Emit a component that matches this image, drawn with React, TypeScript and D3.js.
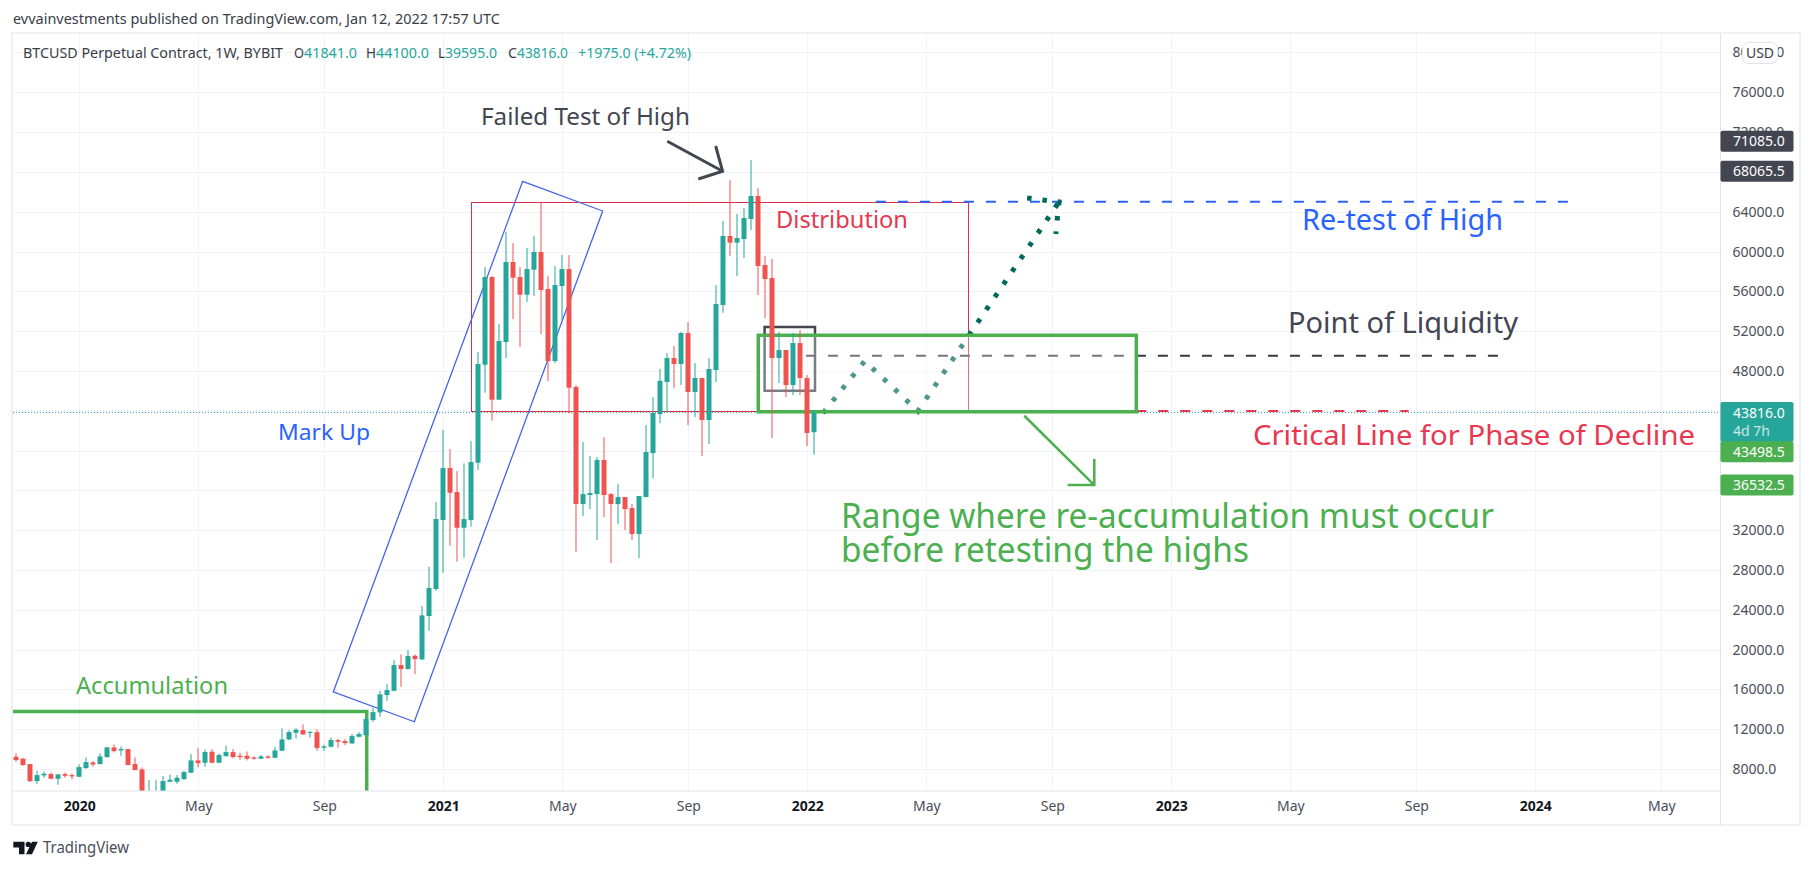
import { useEffect, useRef } from 'react';
import * as d3 from 'd3';

// weekly bars, first bar is the week of 2019-11-04
const opens = [
  9231, 9030, 8494, 6785, 7355, 7489, 7020, 7489, 7389, 7221,
  8092, 8661, 8494, 9197, 10169, 9868, 10001, 8494, 7958, 4900,
  5500, 5700, 6718, 6718, 6986, 7623, 8862, 8628, 9734, 8628,
  9298, 9700, 9331, 9331, 9164, 9030, 9264, 9130, 9834, 10973,
  11643, 11911, 11610, 11710, 10136, 10236, 10906, 10805, 10571, 11241,
  11408, 12916, 13686, 15429, 15864, 18444, 18041, 19381, 19013, 23368,
  26081, 33016, 38242, 35830, 32245, 33016, 38777, 48627, 57437, 45110,
  50905, 58945, 57437, 55662, 58175, 59950, 56231, 48996, 56533, 58241,
  46382, 34624, 35529, 35629, 39046, 35629, 34624, 35327, 34222, 31609,
  35327, 39750, 43670, 46885, 49297, 48695, 51810, 45880, 47287, 43070,
  48093, 54623, 61558, 60888, 61256, 63266, 65578, 58643, 57337, 49297,
  50101, 46584, 50805, 47287, 41841,
];
const highs = [
  9566, 9130, 8494, 7824, 7757, 7656, 7455, 7656, 7556, 8460,
  9164, 8796, 9566, 10236, 10470, 10270, 10001, 9164, 8159, 6886,
  6886, 7288, 7455, 7389, 7824, 9499, 10102, 9968, 10001, 9566,
  10370, 10001, 9633, 9767, 9264, 9432, 9365, 10236, 12078, 11911,
  12112, 12480, 11844, 12011, 10437, 11174, 11006, 11006, 11509, 11710,
  13318, 14155, 15864, 16534, 18946, 19515, 19951, 19515, 24373, 28326,
  34825, 42061, 40152, 37940, 38710, 40955, 49900, 58442, 57538, 52714,
  61960, 60854, 58442, 60352, 61558, 64908, 57538, 58543, 59649, 59649,
  46583, 40855, 39448, 39348, 41357, 35730, 36634, 35327, 34624, 35430,
  42563, 45378, 48209, 49800, 50503, 51911, 52915, 48795, 47287, 49297,
  56634, 63065, 67186, 63769, 64372, 69196, 66382, 59548, 59246, 51911,
  50101, 51810, 52111, 47588, 44100,
];
const lows = [
  8728, 8326, 6685, 6517, 7120, 6986, 6417, 7120, 6953, 7187,
  8025, 8226, 8460, 9130, 9666, 9331, 8394, 7891, 3850, 4400,
  5100, 5700, 6718, 6517, 6886, 7590, 8159, 8226, 8594, 8594,
  9231, 9063, 8930, 8862, 8930, 8996, 9030, 9097, 9800, 10906,
  11074, 11442, 11140, 9834, 9834, 10169, 10136, 10403, 10537, 11174,
  11341, 12748, 13251, 14859, 15831, 16266, 18008, 17539, 18979, 21894,
  25914, 27720, 30436, 28825, 29225, 32350, 38040, 45813, 43000, 45110,
  49297, 53216, 50402, 54925, 55528, 51709, 46986, 48795, 53116, 43736,
  29830, 33418, 34120, 31006, 33317, 28695, 32614, 32011, 31006, 29198,
  35300, 37237, 42765, 43870, 46282, 46584, 42563, 43369, 39448, 40654,
  46885, 53853, 59548, 57538, 59347, 62161, 55628, 53317, 41257, 46784,
  45378, 45578, 45578, 40453, 39595,
];
const closes = [
  8896, 8394, 6785, 7389, 7523, 7020, 7455, 7321, 7254, 8192,
  8695, 8460, 9264, 10169, 9800, 10001, 8394, 7891, 5390, 5600,
  5750, 6785, 6920, 7120, 7690, 8862, 8594, 9700, 8628, 9398,
  9700, 9197, 9197, 9030, 9030, 9264, 9130, 9868, 10973, 11710,
  11944, 11475, 11710, 10102, 10270, 10906, 10738, 10604, 11308, 11509,
  13016, 13720, 15496, 15931, 18444, 18041, 19348, 19046, 23435, 26182,
  33116, 38242, 35760, 32245, 33115, 38845, 48695, 57437, 45110, 51005,
  58945, 57370, 55662, 58241, 59950, 56131, 48996, 56633, 58241, 46316,
  34624, 35629, 35730, 39046, 35529, 34624, 35327, 34120, 31609, 35430,
  39850, 43769, 47000, 49297, 48695, 51810, 45880, 47287, 43070, 48194,
  54724, 61558, 60888, 61357, 63367, 65578, 58543, 57237, 49297, 50101,
  46584, 50805, 47287, 41759, 43816,
];

const priceTicks = [
  8000, 12000, 16000, 20000, 24000, 28000, 32000, 36000, 40000, 44000,
  48000, 52000, 56000, 60000, 64000, 68000, 72000, 76000, 80000,
];
// these tick labels sit fully under the price tags, only their grid line shows
const coveredPriceLabels = [36000, 40000, 44000, 68000];
const timeTickBars = [9, 26, 44, 61, 78, 96, 113, 130, 148, 165, 182, 200, 217, 235];
const timeTickLabels = ['2020', 'May', 'Sep', '2021', 'May', 'Sep', '2022', 'May', 'Sep', '2023', 'May', 'Sep', '2024', 'May'];

const LAST_PRICE = 43816;

// drawings, all as [bar, price]
const markUpBox: [number, number][] = [[45.29, 15760], [72.34, 67055], [83.77, 64071], [56.86, 12745]];
const distributionBox: [number, number][] = [[65, 64945], [136.06, 64945], [136.06, 43901], [65, 43901]];
const reaccumBox: [number, number][] = [[106, 51578], [160, 51578], [160, 43900], [106, 43900]];
const liquidityBox: [number, number][] = [[106.9, 52412], [114.1, 52412], [114.1, 46011], [106.9, 46011]];
const accumulationLine: [number, number][] = [[-2, 13790], [50.06, 13790], [50.06, 4000]];
const retestLine: [number, number][] = [[122.8, 65000], [221.8, 65000]];
const liquidityLine: [number, number][] = [[112.8, 49528], [212, 49528]];
const criticalLine: [number, number][] = [[160, 43970], [198.9, 43970]];
const failedArrow: [number, number][] = [[93, 71085], [100.9, 68065]];
const failedArrowHead: [number, number][] = [[99.91, 70603], [100.9, 68065], [97.43, 67286]];
const rangeArrow: [number, number][] = [[144, 43498], [154, 36532]];
const rangeArrowHead: [number, number][] = [[154, 39146], [154, 36532], [150.2, 36532]];
const projection: [number, number][] = [[115.24, 43769], [121.2, 48996], [128.8, 43970], [148.95, 64975]];
const projectionHead: [number, number][] = [[144.4, 65377], [148.95, 64975], [148.5, 61759]];

const GREEN = '#4caf50';
const RED = '#e8374f';
const BLUE = '#2962ff';
const DARK = '#434651';
const TEAL = '#26a69a';
const CANDLE_RED = '#ef5350';
const FONT = '"Noto Sans", sans-serif';

const W = 1813;
const H = 870;
const pane = { l: 13, t: 33, r: 1720.5, b: 791 };

export default function App() {
  const svgRef = useRef<SVGSVGElement>(null);

  useEffect(() => {
    const svg = d3.select(svgRef.current);
    svg.selectAll('*').remove();

    const x = d3.scaleLinear().domain([0, 114]).range([16.3, 814.3]);
    const y = d3.scaleLinear().domain([8000, 76000]).range([769, 92.3]);
    const line = d3.line<[number, number]>().x(d => x(d[0])).y(d => y(d[1]));
    const closed = (pts: [number, number][]) => line(pts) + 'Z';

    svg.append('rect').attr('width', W).attr('height', H).attr('fill', '#fff');

    // outer frame
    svg.append('rect')
      .attr('x', 12).attr('y', 33).attr('width', 1788).attr('height', 792)
      .attr('fill', 'none').attr('stroke', '#eef0f5').attr('stroke-width', 2);

    svg.append('defs').append('clipPath').attr('id', 'pane')
      .append('rect')
      .attr('x', pane.l).attr('y', pane.t)
      .attr('width', pane.r - pane.l).attr('height', pane.b - pane.t);

    // grid
    const grid = svg.append('g').attr('stroke', '#f0f3fa').attr('stroke-width', 1);
    grid.selectAll('line.h').data(priceTicks).join('line')
      .attr('x1', pane.l).attr('x2', pane.r)
      .attr('y1', d => Math.round(y(d)) + 0.5).attr('y2', d => Math.round(y(d)) + 0.5);
    grid.selectAll('line.v').data(timeTickBars).join('line')
      .attr('y1', pane.t).attr('y2', pane.b)
      .attr('x1', d => Math.round(x(d)) + 0.5).attr('x2', d => Math.round(x(d)) + 0.5);

    const chart = svg.append('g').attr('clip-path', 'url(#pane)');

    // last price line
    chart.append('line')
      .attr('x1', pane.l).attr('x2', pane.r)
      .attr('y1', y(LAST_PRICE)).attr('y2', y(LAST_PRICE))
      .attr('stroke', TEAL).attr('stroke-dasharray', '1 2');

    // drawings under the translucent range box
    chart.append('path').attr('d', closed(distributionBox))
      .attr('fill', 'none').attr('stroke', '#d9304a').attr('stroke-width', 1)
      .attr('shape-rendering', 'crispEdges');
    chart.append('path').attr('d', closed(markUpBox))
      .attr('fill', 'none').attr('stroke', '#4564e8').attr('stroke-width', 1.3);
    chart.append('path').attr('d', closed(liquidityBox))
      .attr('fill', 'none').attr('stroke', DARK).attr('stroke-width', 2.5);
    chart.append('path').attr('d', line(accumulationLine))
      .attr('fill', 'none').attr('stroke', GREEN).attr('stroke-width', 3.5);

    const dashed = (pts: [number, number][], color: string) =>
      chart.append('path').attr('d', line(pts))
        .attr('fill', 'none').attr('stroke', color).attr('stroke-width', 2)
        .attr('stroke-dasharray', '10 12');
    dashed(retestLine, BLUE);
    dashed(liquidityLine, '#363a45');
    dashed(criticalLine, RED);

    const dotted = (d: string | null) =>
      chart.append('path').attr('d', d)
        .attr('fill', 'none').attr('stroke', '#00695c').attr('stroke-width', 5)
        .attr('stroke-dasharray', '4.5 10.9');
    dotted(line(projection));
    dotted(line(projectionHead));

    chart.append('path').attr('d', closed(reaccumBox))
      .attr('fill', 'rgba(255,255,255,0.3)').attr('stroke', GREEN).attr('stroke-width', 3.5);

    chart.append('path').attr('d', line(failedArrow))
      .attr('fill', 'none').attr('stroke', DARK).attr('stroke-width', 3);
    chart.append('path').attr('d', line(failedArrowHead))
      .attr('fill', 'none').attr('stroke', DARK).attr('stroke-width', 3);
    chart.append('path').attr('d', line(rangeArrow))
      .attr('fill', 'none').attr('stroke', GREEN).attr('stroke-width', 2.5);
    chart.append('path').attr('d', line(rangeArrowHead))
      .attr('fill', 'none').attr('stroke', GREEN).attr('stroke-width', 2.5);

    // candles
    const bars = d3.range(opens.length);
    const color = (i: number) => (closes[i] >= opens[i] ? TEAL : CANDLE_RED);
    const px = (i: number) => Math.round(x(i));
    chart.append('g').selectAll('rect').data(bars).join('rect')
      .attr('x', i => px(i) - 0.5).attr('width', 1)
      .attr('y', i => y(highs[i]))
      .attr('height', i => y(lows[i]) - y(highs[i]))
      .attr('fill', color);
    chart.append('g').selectAll('rect').data(bars).join('rect')
      .attr('x', i => px(i) - 2.5).attr('width', 5)
      .attr('y', i => y(Math.max(opens[i], closes[i])))
      .attr('height', i => Math.max(1, Math.abs(y(opens[i]) - y(closes[i]))))
      .attr('fill', color);

    // axis lines
    svg.append('line').attr('x1', pane.r).attr('x2', pane.r).attr('y1', pane.t).attr('y2', 825)
      .attr('stroke', '#e0e3eb');
    svg.append('line').attr('x1', pane.l).attr('x2', pane.r).attr('y1', pane.b).attr('y2', pane.b)
      .attr('stroke', '#e0e3eb');

    // price axis
    svg.append('g')
      .attr('transform', `translate(${pane.r},0)`)
      .call(
        d3.axisRight(y)
          .tickValues(priceTicks.filter(d => !coveredPriceLabels.includes(d)))
          .tickFormat(d3.format('.1f') as any)
          .tickSize(0)
          .tickPadding(12)
      )
      .call(g => g.select('.domain').remove())
      .selectAll('text')
        .attr('font-family', FONT).attr('font-size', 14).attr('fill', '#4a4e59');

    // time axis
    svg.append('g')
      .attr('transform', `translate(0,${pane.b})`)
      .call(d3.axisBottom(x).tickValues(timeTickBars).tickFormat((_, i) => timeTickLabels[i]).tickSize(0).tickPadding(10))
      .call(g => g.select('.domain').remove())
      .selectAll('text')
        .attr('font-family', FONT).attr('font-size', 14).attr('fill', '#4a4e59')
        .filter((_, i) => /^\d/.test(timeTickLabels[i]))
        .attr('font-weight', 700).attr('fill', '#131722');

    // annotation text: text, left, right, baseline, size, colour
    const label = (t: string, x0: number, x1: number, base: number, size: number, fill: string) =>
      svg.append('text')
        .attr('x', x0).attr('y', base)
        .attr('font-family', FONT).attr('font-size', size).attr('fill', fill)
        .attr('textLength', x1 - x0).attr('lengthAdjust', 'spacingAndGlyphs')
        .text(t);

    label('evvainvestments published on TradingView.com, Jan 12, 2022 17:57 UTC', 13, 500, 24, 14, '#3a3d47');
    label('BTCUSD Perpetual Contract, 1W, BYBIT', 23, 283, 58, 14, '#3a3d47');
    label('O', 294, 304, 58, 14, '#3a3d47');
    label('41841.0', 304, 357, 58, 14, TEAL);
    label('H', 366, 376, 58, 14, '#3a3d47');
    label('44100.0', 376, 429, 58, 14, TEAL);
    label('L', 438, 445, 58, 14, '#3a3d47');
    label('39595.0', 445, 497, 58, 14, TEAL);
    label('C', 508, 517, 58, 14, '#3a3d47');
    label('43816.0', 517, 568, 58, 14, TEAL);
    label('+1975.0 (+4.72%)', 578, 691, 58, 14, TEAL);

    label('Failed Test of High', 481, 690, 125, 24, DARK);
    label('Distribution', 776, 908, 228, 24, RED);
    label('Re-test of High', 1302, 1503, 230, 29, BLUE);
    label('Point of Liquidity', 1288, 1518, 333, 29, DARK);
    label('Critical Line for Phase of Decline', 1253, 1695, 445, 28, RED);
    label('Mark Up', 278, 370, 440, 22, BLUE);
    label('Accumulation', 76, 228, 694, 24, GREEN);
    label('Range where re-accumulation must occur', 841, 1494, 528, 34, GREEN);
    label('before retesting the highs', 841, 1249, 562, 34, GREEN);

    // price labels on the axis
    const tag = (price: number, text: string, fill: string, shift = 0, h = 21) => {
      const top = y(price) - 10.5 + shift;
      svg.append('rect').attr('x', pane.r).attr('y', top).attr('width', 73).attr('height', h)
        .attr('fill', fill).attr('rx', 2);
      svg.append('text').attr('x', 1733).attr('y', top + 15.5)
        .attr('font-family', FONT).attr('font-size', 14).attr('fill', '#fff').text(text);
    };
    tag(71085, '71085.0', DARK);
    tag(68065.5, '68065.5', DARK);
    tag(LAST_PRICE, '43816.0', TEAL, 0, 40);
    svg.append('text').attr('x', 1733).attr('y', 436)
      .attr('font-family', FONT).attr('font-size', 14).attr('fill', '#fff').attr('fill-opacity', 0.75).text('4d 7h');
    tag(43498.5, '43498.5', GREEN, 36);
    tag(36532.5, '36532.5', GREEN);

    // currency pill
    svg.append('rect').attr('x', 1742.5).attr('y', 42.5).attr('width', 35).attr('height', 21).attr('rx', 6)
      .attr('fill', '#fff').attr('stroke', '#e0e3eb');
    svg.append('text').attr('x', 1760).attr('y', 58).attr('text-anchor', 'middle')
      .attr('font-family', FONT).attr('font-size', 14).attr('fill', '#3a3d47').text('USD');

    // footer logo
    const logo = svg.append('g').attr('fill', '#131722');
    logo.append('path').attr('d', 'M13.3 841.7H24.5V854.3H19V847.5H13.3Z');
    logo.append('circle').attr('cx', 28.3).attr('cy', 844.4).attr('r', 2.7);
    logo.append('path').attr('d', 'M32 841.7H37.8L32 854.3H26Z');
    label('TradingView', 43, 129, 853, 16, '#4a4e59');
  }, []);

  return <svg ref={svgRef} width={W} height={H} style={{ position: 'absolute', left: 0, top: 0 }} />;
}
